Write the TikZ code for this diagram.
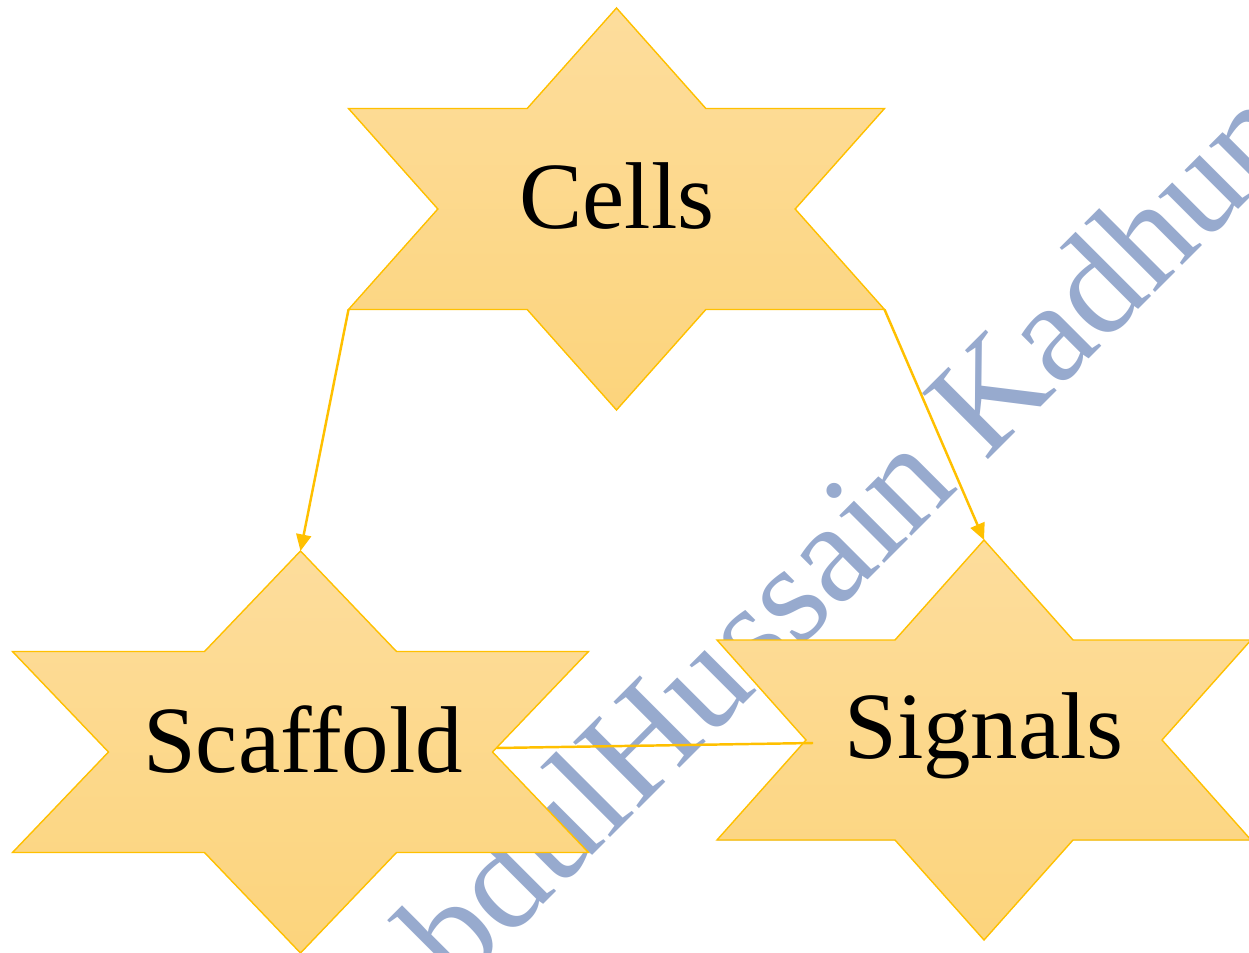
\documentclass[tikz,border=0pt]{standalone}
\usepackage{fontspec}
\setmainfont{Liberation Serif}
\usetikzlibrary{arrows.meta,calc}
\definecolor{StarClr}{RGB}{255,192,0}
\definecolor{StarTop}{RGB}{253,221,156}
\definecolor{StarBot}{RGB}{252,212,124}
\definecolor{MarkClr}{RGB}{151,170,206}

% six-pointed star: #1 name, #2 centre, #3 half width, #4 half height
\newcommand{\HexStar}[4]{%
\begin{scope}[shift={(#2)}]
\filldraw[hexfill] (0,-#4) coordinate (#1-T) -- (#3/3,-#4/2) -- (#3,-#4/2)
  -- (2*#3/3,0) coordinate (#1-R) -- (#3,#4/2) coordinate (#1-BR)
  -- (#3/3,#4/2) -- (0,#4) -- (-#3/3,#4/2) -- (-#3,#4/2) coordinate (#1-BL)
  -- (-2*#3/3,0) coordinate (#1-L) -- (-#3,-#4/2) -- (-#3/3,-#4/2) -- cycle;
\end{scope}}

\begin{document}
\begin{tikzpicture}[x=0.2mm,y=-0.2mm,
  hexfill/.style={draw=StarClr,line width=0.8pt,top color=StarTop,bottom color=StarBot},
  starlabel/.style={font=\fontsize{54}{60}\selectfont,anchor=base},
  link/.style={StarClr,line width=1.4pt,-{Triangle[length=3.3mm,width=3mm]}},
  marktext/.style={MarkClr,font=\fontsize{81}{90}\selectfont,rotate=45,anchor=base west}]
\useasboundingbox (0,0) rectangle (1249,953);
\clip (0,0) rectangle (1249,953);

\node[marktext] (wm) at (380,1068) {AbdulHussain Kadhum};

\HexStar{cells}{616.5,209}{268}{201}
\HexStar{scaffold}{300.5,752}{288}{201}
\HexStar{signals}{984,740}{267}{200}

\node[starlabel] (c) at (617,229) {Cells};
\node[starlabel] (s) at (303,772) {Scaffold};
\node[starlabel] (g) at (984,758) {Signals};

\draw[link] (cells-BL) -- (scaffold-T);
\draw[link] (cells-BR) -- (signals-T);
\draw[StarClr,line width=1.4pt] ($(scaffold-R)+(4,-4)$) -- ($(signals-L)+(7,3)$);

\end{tikzpicture}
\end{document}
